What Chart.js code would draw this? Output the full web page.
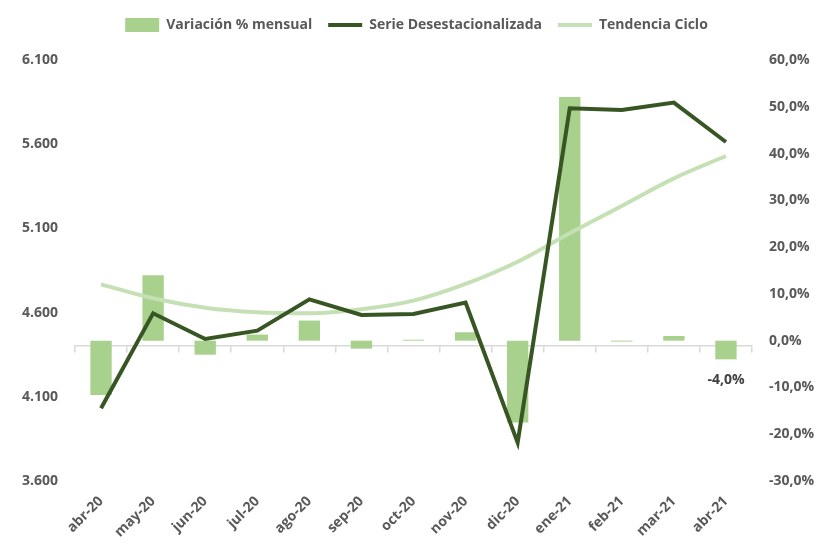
<!DOCTYPE html>
<html>
<head>
<meta charset="utf-8">
<script src="https://cdn.jsdelivr.net/npm/chart.js@4.4.1/dist/chart.umd.min.js"></script>
<style>
  html, body { margin: 0; padding: 0; background: #fff; }
  #wrap { width: 820px; height: 544px; position: relative; }
</style>
</head>
<body>
<div id="wrap"><canvas id="grafico"></canvas></div>
<script>
const meses = ['abr-20', 'may-20', 'jun-20', 'jul-20', 'ago-20', 'sep-20', 'oct-20', 'nov-20', 'dic-20', 'ene-21', 'feb-21', 'mar-21', 'abr-21'];
// Variación % mensual (eje derecho)
const variacion = [-11.6, 14.0, -3.0, 1.3, 4.3, -1.7, 0.2, 1.8, -17.5, 52.1, -0.2, 1.0, -4.0];
// Serie desestacionalizada y tendencia ciclo (eje izquierdo)
const desestacionalizada = [4032, 4596, 4443, 4493, 4679, 4586, 4592, 4659, 3828, 5813, 5803, 5847, 5613];
const tendencia = [4768, 4685, 4629, 4602, 4596, 4620, 4671, 4770, 4902, 5071, 5233, 5397, 5530];
// Ejes
const ejeIzq = [3600, 6100, 500];
const ejeDer = [-30, 60, 10];

const gris = '#595959';
const fuente = { family: 'Open Sans', size: 14, weight: 'bold' };

const fmtMiles = (v) => String(v).replace(/\B(?=(\d{3})+(?!\d))/g, '.');
const fmtPct = (v) => v.toFixed(1).replace('.', ',') + '%';

// etiqueta del último dato de la variación
const etiquetaFinal = {
    id: 'etiquetaFinal',
    afterDatasetsDraw(chart) {
        const i = variacion.length - 1;
        const bar = chart.getDatasetMeta(0).data[i];
        const ctx = chart.ctx;
        ctx.save();
        ctx.font = 'bold 14px "Open Sans"';
        ctx.fillStyle = '#404040';
        ctx.textAlign = 'center';
        ctx.textBaseline = 'middle';
        ctx.fillText(fmtPct(variacion[i]), bar.x, bar.y + 21);
        ctx.restore();
    }
};

// espacio extra bajo la leyenda
const espacioLeyenda = {
    id: 'espacioLeyenda',
    afterInit(chart) {
        const fit = chart.legend.fit;
        chart.legend.fit = function () {
            fit.call(this);
            this.height += 18;
        };
    }
};

const ctx = document.getElementById('grafico').getContext('2d');
new Chart(ctx, {
    type: 'bar',
    data: {
        labels: meses,
        datasets: [
            {
                label: 'Variación % mensual',
                data: variacion,
                yAxisID: 'y1',
                backgroundColor: '#a9d18e',
                borderWidth: 0,
                barPercentage: 0.41,
                categoryPercentage: 1,
                pointStyle: 'rect',
                order: 3,
            },
            {
                label: 'Serie Desestacionalizada',
                type: 'line',
                data: desestacionalizada,
                yAxisID: 'y',
                borderColor: '#375623',
                backgroundColor: '#375623',
                borderWidth: 4,
                pointRadius: 0,
                pointHoverRadius: 0,
                pointStyle: 'line',
                pointBorderColor: '#375623',
                pointBorderWidth: 4,
                tension: 0,
                order: 1,
            },
            {
                label: 'Tendencia Ciclo',
                type: 'line',
                data: tendencia,
                yAxisID: 'y',
                borderColor: '#c5e0b4',
                backgroundColor: '#c5e0b4',
                borderWidth: 4,
                pointRadius: 0,
                pointHoverRadius: 0,
                pointStyle: 'line',
                pointBorderColor: '#c5e0b4',
                pointBorderWidth: 4,
                tension: 0.4,
                cubicInterpolationMode: 'monotone',
                order: 2,
            },
        ],
    },
    options: {
        responsive: true,
        maintainAspectRatio: false,
        animation: false,
        layout: { padding: { left: 17, right: 4, top: 2, bottom: 0 } },
        plugins: {
            legend: {
                position: 'top',
                labels: {
                    usePointStyle: true,
                    pointStyleWidth: 34,
                    boxHeight: 14,
                    padding: 16,
                    color: gris,
                    font: fuente,
                    sort: (a, b) => a.datasetIndex - b.datasetIndex,
                },
            },
            tooltip: { enabled: false },
        },
        scales: {
            x: {
                position: 'bottom',
                offset: true,
                grid: { display: false },
                border: { display: false },
                ticks: {
                    color: gris,
                    font: fuente,
                    minRotation: 45,
                    maxRotation: 45,
                    padding: 4,
                },
                afterFit: (s) => { s.height = 63; },
            },
            xLinea: {
                type: 'category',
                position: { y1: -1 },
                offset: true,
                grid: {
                    offset: true,
                    drawOnChartArea: false,
                    tickLength: 6,
                    color: '#d9d9d9',
                    lineWidth: 1.5,
                },
                border: { color: '#d9d9d9', width: 1.5 },
                ticks: { display: false },
            },
            y: {
                position: 'left',
                min: ejeIzq[0],
                max: ejeIzq[1],
                grid: { display: false, drawTicks: false },
                border: { display: false },
                ticks: {
                    stepSize: ejeIzq[2],
                    color: gris,
                    font: fuente,
                    padding: 17,
                    callback: (v) => fmtMiles(v),
                },
                afterFit: (s) => { s.width = 58; },
            },
            y1: {
                position: 'right',
                min: ejeDer[0],
                max: ejeDer[1],
                grid: { display: false, drawTicks: false },
                border: { display: false },
                ticks: {
                    stepSize: ejeDer[2],
                    color: gris,
                    font: fuente,
                    padding: 17,
                    callback: (v) => fmtPct(v),
                },
                afterFit: (s) => { s.width = 64; },
            },
        },
    },
    plugins: [etiquetaFinal, espacioLeyenda],
});
</script>
</body>
</html>
